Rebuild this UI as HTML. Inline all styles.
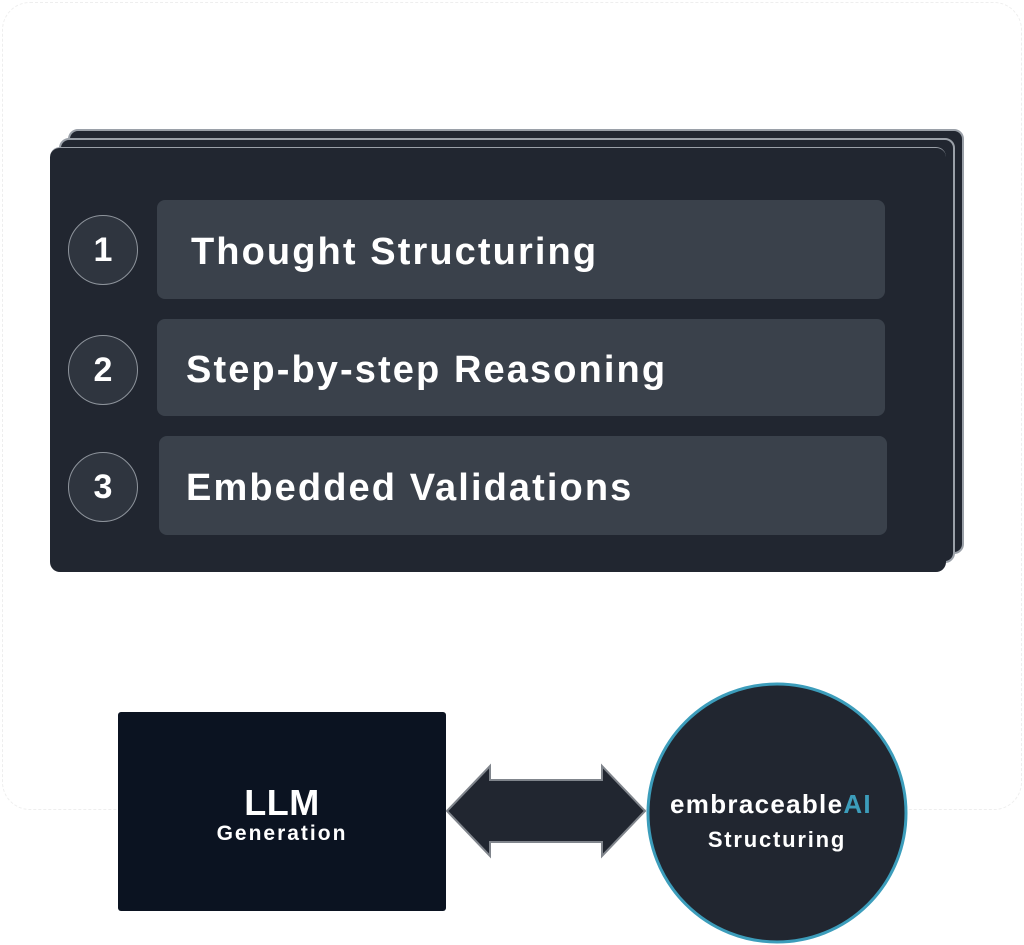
<!DOCTYPE html>
<html><head><meta charset="utf-8"><style>
html,body{margin:0;padding:0;background:#fff;}
body{width:1024px;height:945px;position:relative;overflow:hidden;font-family:"Liberation Sans",Arial,sans-serif;}
.frame{position:absolute;left:2px;top:2px;width:1018px;height:806px;border:1px dashed #eee;border-radius:28px;}
.card{position:absolute;width:896px;height:425px;background:#212630;border:2px solid #9aa0a8;border-radius:10px;box-sizing:border-box;}
.row{position:absolute;background:#3a414b;border-radius:8px;color:#fff;font-weight:bold;font-size:38px;letter-spacing:2.1px;line-height:1;display:flex;align-items:center;box-sizing:border-box;padding-top:5px;}
.num{position:absolute;width:70px;height:70px;border-radius:50%;border:1.5px solid #8e949c;background:#2f353f;box-sizing:border-box;color:#fff;font-weight:bold;font-size:34px;display:flex;align-items:center;justify-content:center;}
</style></head><body>
<div class="frame"></div>
<div class="card" style="left:68px;top:129px;"></div>
<div class="card" style="left:59px;top:138px;"></div>
<div class="card" style="left:50px;top:147px;border:none;border-top:1.5px solid #9aa0a8;"></div>
<div class="num" style="left:68px;top:215px;">1</div>
<div class="num" style="left:68px;top:335px;">2</div>
<div class="num" style="left:68px;top:452px;">3</div>
<div class="row" style="left:157px;top:200px;width:728px;height:99px;padding-left:34px;">Thought Structuring</div>
<div class="row" style="left:157px;top:319px;width:728px;height:97px;padding-left:29px;">Step-by-step Reasoning</div>
<div class="row" style="left:159px;top:436px;width:728px;height:99px;padding-left:27px;">Embedded Validations</div>

<div style="position:absolute;left:118px;top:712px;width:328px;height:199px;background:#0b1321;border-radius:3px;color:#fff;text-align:center;font-weight:bold;">
<div style="position:absolute;top:70px;width:100%;font-size:36px;letter-spacing:0.5px;">LLM</div>
<div style="position:absolute;top:110px;width:100%;font-size:21px;letter-spacing:2px;">Generation</div>
</div>

<svg style="position:absolute;left:0;top:0" width="1024" height="945">
<polygon points="447,811 490,766 490,780 602,780 602,766 645,811 602,856 602,842 490,842 490,856" fill="#212630" stroke="#80858c" stroke-width="2"/>
<circle cx="777" cy="813" r="129" fill="#212630" stroke="#3c9dbb" stroke-width="3"/>
<text x="771" y="813" text-anchor="middle" font-family="Liberation Sans, Arial, sans-serif" font-weight="bold" font-size="26" letter-spacing="1.3" fill="#fff">embraceable<tspan fill="#3c9dbb">AI</tspan></text>
<text x="777" y="847" text-anchor="middle" font-family="Liberation Sans, Arial, sans-serif" font-weight="bold" font-size="22" letter-spacing="1.8" fill="#fff">Structuring</text>
</svg>
</body></html>
